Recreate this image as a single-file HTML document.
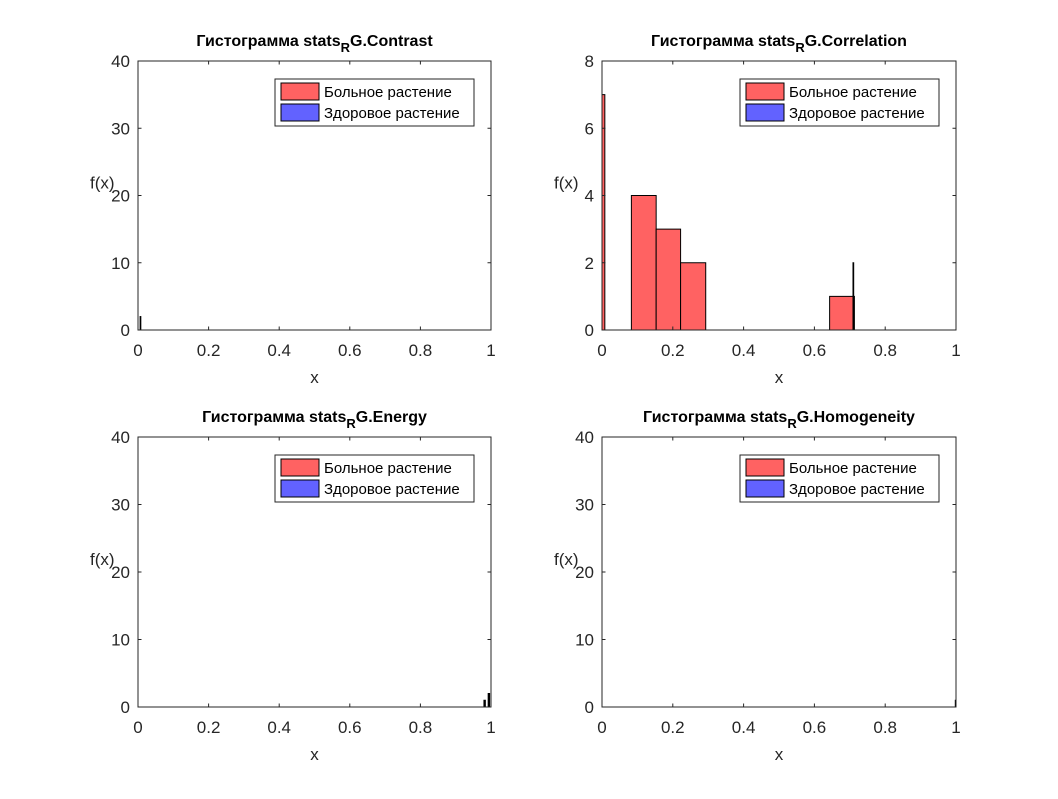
<!DOCTYPE html>
<html><head><meta charset="utf-8"><style>
body{margin:0;background:#fff;font-family:"Liberation Sans",sans-serif}
svg text{font-family:"Liberation Sans",sans-serif}
</style></head><body>
<svg id="fig" width="1058" height="794"></svg>
<script>
// Panel definitions
const titles=["Contrast","Correlation","Energy","Homogeneity"];
const yMaxes=[40,8,40,40];
const yTicks40=[0,10,20,30,40];
const yTicks8=[0,2,4,6,8];
const xTicks=[0,0.2,0.4,0.6,0.8,1];
// Diseased (red) bins: [left, right, count]
const redContrast=[];
const redCorrelation=[[0,0.008,7],[0.083,0.153,4],[0.153,0.222,3],[0.222,0.293,2],[0.643,0.713,1]];
const redEnergy=[];
const redHomogeneity=[];
// Healthy (blue) bins: [left, right, count]
const blueContrast=[[0.006,0.008,2]];
const blueCorrelation=[[0.709,0.711,2]];
const blueEnergy=[[0.98,0.984,1],[0.992,0.996,2]];
const blueHomogeneity=[[0.998,1,1]];
const reds=[redContrast,redCorrelation,redEnergy,redHomogeneity];
const blues=[blueContrast,blueCorrelation,blueEnergy,blueHomogeneity];
const boxes=[[138,61,491,330],[602,61,956,330],[138,437,491,707],[602,437,956,707]];
const svg=document.getElementById('fig');
const NS='http://www.w3.org/2000/svg';
function mk(t,a,p){const e=document.createElementNS(NS,t);for(const k in a)e.setAttribute(k,a[k]);(p||svg).appendChild(e);return e;}
boxes.forEach((b,i)=>{
  const [x0,y0,x1,y1]=b;
  const g=mk('g',{});
  
  
  const sx=v=>x0+v*(x1-x0);
  const sy=v=>y1-v/yMaxes[i]*(y1-y0);
  mk('rect',{x:x0,y:y0,width:x1-x0,height:y1-y0,fill:'#fff',stroke:'none'},g);
  const drawBars=(arr,col,nm,thinBlack)=>arr.forEach(d=>{
    const w=sx(d[1])-sx(d[0]);
    const r=mk('rect',{x:sx(d[0]),y:sy(d[2]),width:Math.max(0.5,w),height:y1-sy(d[2]),fill:(thinBlack&&w<3)?'#000':col,stroke:'#000','stroke-width':1},g);
    
    
  });
  drawBars(reds[i],'#ff6262','bar-diseased',false);
  drawBars(blues[i],'#6262ff','bar-healthy',true);
  mk('rect',{x:x0,y:y0,width:x1-x0,height:y1-y0,fill:'none',stroke:'#262626','stroke-width':1},g);
  xTicks.forEach(t=>{
    mk('line',{x1:sx(t),x2:sx(t),y1:y1,y2:y1-3.5,stroke:'#262626'},g);
    mk('line',{x1:sx(t),x2:sx(t),y1:y0,y2:y0+3.5,stroke:'#262626'},g);
    const tx=mk('text',{x:sx(t),y:y1+26,'text-anchor':'middle','font-size':17,fill:'#262626'},g);
    tx.textContent=String(t);
  });
  const yt=yMaxes[i]===8?yTicks8:yTicks40;
  yt.forEach(t=>{
    mk('line',{x1:x0,x2:x0+3.5,y1:sy(t),y2:sy(t),stroke:'#262626'},g);
    mk('line',{x1:x1,x2:x1-3.5,y1:sy(t),y2:sy(t),stroke:'#262626'},g);
    const ty=mk('text',{x:x0-8,y:sy(t)+6,'text-anchor':'end','font-size':17,fill:'#262626'},g);
    ty.textContent=String(t);
  });
  const xl=mk('text',{x:(x0+x1)/2,y:y1+53,'text-anchor':'middle','font-size':17,fill:'#262626'},g);
  xl.textContent='x';
  
  
  const yl=mk('text',{x:x0-48,y:(y0+y1)/2-7,'font-size':17,fill:'#262626'},g);
  yl.textContent='f(x)';
  
  
  const tt=mk('text',{x:(x0+x1)/2,y:y0-15,'text-anchor':'middle','font-size':16,'font-weight':'bold',fill:'#000'},g);
  tt.innerHTML='Гистограмма stats<tspan dy="6" font-size="13">R</tspan><tspan dy="-6">G.'+titles[i]+'</tspan>';
  
  
  // legend
  const lg=mk('g',{},g);
  
  
  const lx=x1-216,ly=y0+18;
  mk('rect',{x:lx,y:ly,width:199,height:47,fill:'#fff',stroke:'#262626'},lg);
  mk('rect',{x:lx+6,y:ly+4,width:38,height:17,fill:'#ff6262',stroke:'#000'},lg);
  mk('rect',{x:lx+6,y:ly+25,width:38,height:17,fill:'#6262ff',stroke:'#000'},lg);
  const a=mk('text',{x:lx+49,y:ly+18,'font-size':15,fill:'#000'},lg);a.textContent='Больное растение';
  
  
  const c=mk('text',{x:lx+49,y:ly+39,'font-size':15,fill:'#000'},lg);c.textContent='Здоровое растение';
  
  
});
</script>
</body></html>
